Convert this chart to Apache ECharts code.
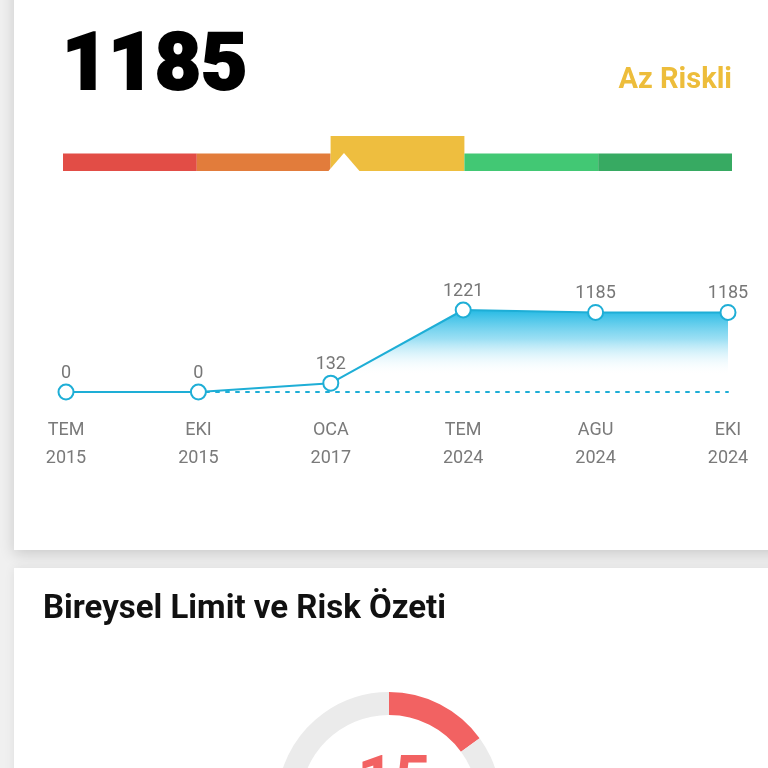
<!DOCTYPE html>
<html>
<head>
<meta charset="utf-8">
<script src="https://cdn.jsdelivr.net/npm/echarts@6/dist/echarts.min.js"></script>
<style>
  html, body { margin: 0; padding: 0; background: #f0f0f0; }
  #chart { width: 768px; height: 768px; }
</style>
</head>
<body>
<div id="chart"></div>
<script>
// skor ve risk seviyesi
const score = 1185;
const scoreLabel = 'Az Riskli';

// risk bandlari (en riskli -> en iyi)
const riskBands = ['En Riskli', 'Orta Riskli', 'Az Riskli', 'İyi', 'En İyi'];
const riskBandLevels = [1, 1, 2, 1, 1]; // aktif band daha yuksek
const riskBandColors = ['#e24d46', '#e27c3b', '#eebe3f', '#42c874', '#37aa62'];
const markerPos = 2.1; // band biriminde isaretci konumu

// skor gecmisi
const months = ['TEM\n2015', 'EKI\n2015', 'OCA\n2017', 'TEM\n2024', 'AGU\n2024', 'EKI\n2024'];
const scoreHistory = [0, 0, 132, 1221, 1185, 1185];

// limit / risk ozeti
const summaryTitle = 'Bireysel Limit ve Risk Özeti';
const riskRatio = [15, 85];

const lineColor = '#1eaed6';
const font = 'Roboto, "Noto Sans", sans-serif';

const myChart = echarts.init(document.getElementById('chart'));

const options = {
    backgroundColor: '#f0f0f0',
    animation: false,
    graphic: [
        { // ust kart
            type: 'rect', z: 0,
            shape: { x: 14, y: -20, width: 800, height: 570 },
            style: { fill: '#fff', shadowBlur: 14, shadowColor: 'rgba(0,0,0,0.16)', shadowOffsetY: 4 }
        },
        { // alt kart
            type: 'rect', z: 0,
            shape: { x: 14, y: 568, width: 800, height: 300 },
            style: { fill: '#fff', shadowBlur: 10, shadowColor: 'rgba(0,0,0,0.08)' }
        }
    ],
    title: [
        {
            text: String(score), left: 57, top: 24,
            textStyle: {
                fontFamily: font, fontSize: 80, fontWeight: 900, color: '#000',
                textBorderColor: '#000', textBorderWidth: 2
            }
        },
        {
            text: scoreLabel, right: 31, top: 61,
            textStyle: { fontFamily: font, fontSize: 29, fontWeight: 'bold', color: '#edbd3b' }
        },
        {
            text: summaryTitle, left: 38, top: 588,
            textStyle: { fontFamily: font, fontSize: 33, fontWeight: 'bold', color: '#111' }
        },
        {
            text: String(riskRatio[0]), left: 389, top: 748, textAlign: 'center',
            textStyle: { fontFamily: font, fontSize: 64, fontWeight: 'bold', color: '#f26262' }
        }
    ],
    grid: [
        { left: 63, right: 36, top: 136, height: 35 },
        { left: 66, right: 40, top: 310, height: 82 }
    ],
    xAxis: [
        { gridIndex: 0, type: 'category', data: riskBands, show: false },
        { gridIndex: 0, type: 'value', min: 0, max: riskBands.length, show: false },
        {
            gridIndex: 1, type: 'category', boundaryGap: false, data: months,
            axisLine: { show: true, lineStyle: { color: lineColor, type: [3, 7], width: 2 } },
            axisTick: { show: false },
            axisLabel: {
                color: '#7a7a7a', fontFamily: font, fontSize: 18, lineHeight: 28, margin: 24,
                interval: 0
            }
        }
    ],
    yAxis: [
        { gridIndex: 0, type: 'value', min: 0, max: 2, show: false },
        { gridIndex: 1, type: 'value', min: 0, max: 1221, show: false }
    ],
    series: [
        {
            type: 'bar', xAxisIndex: 0, yAxisIndex: 0,
            barCategoryGap: '0%', silent: true,
            data: riskBandLevels.map((v, i) => ({ value: v, itemStyle: { color: riskBandColors[i] } }))
        },
        {
            type: 'scatter', xAxisIndex: 1, yAxisIndex: 0,
            symbol: 'triangle', symbolSize: [31, 18], symbolOffset: [0, -9],
            itemStyle: { color: '#fff', opacity: 1 }, silent: true, z: 5,
            data: [[markerPos, 0]]
        },
        {
            type: 'line', xAxisIndex: 2, yAxisIndex: 1,
            data: scoreHistory,
            symbol: 'circle', symbolSize: 15,
            lineStyle: { color: lineColor, width: 2 },
            itemStyle: { color: '#fff', borderColor: lineColor, borderWidth: 2 },
            areaStyle: {
                opacity: 1,
                color: new echarts.graphic.LinearGradient(0, 0, 0, 1, [
                    { offset: 0, color: 'rgba(38,186,228,1)' },
                    { offset: 0.35, color: 'rgba(120,212,240,0.75)' },
                    { offset: 0.8, color: 'rgba(255,255,255,0)' }
                ])
            },
            label: {
                show: true, position: 'top', distance: 1,
                color: '#777', fontFamily: font, fontSize: 18
            },
            z: 3
        },
        {
            type: 'pie', center: [389, 804], radius: [89, 112],
            startAngle: 90, silent: true,
            label: { show: false },
            data: [
                { value: riskRatio[0], itemStyle: { color: '#f26262' } },
                { value: riskRatio[1], itemStyle: { color: '#ebebeb' } }
            ]
        }
    ]
};

myChart.setOption(options);
</script>
</body>
</html>
